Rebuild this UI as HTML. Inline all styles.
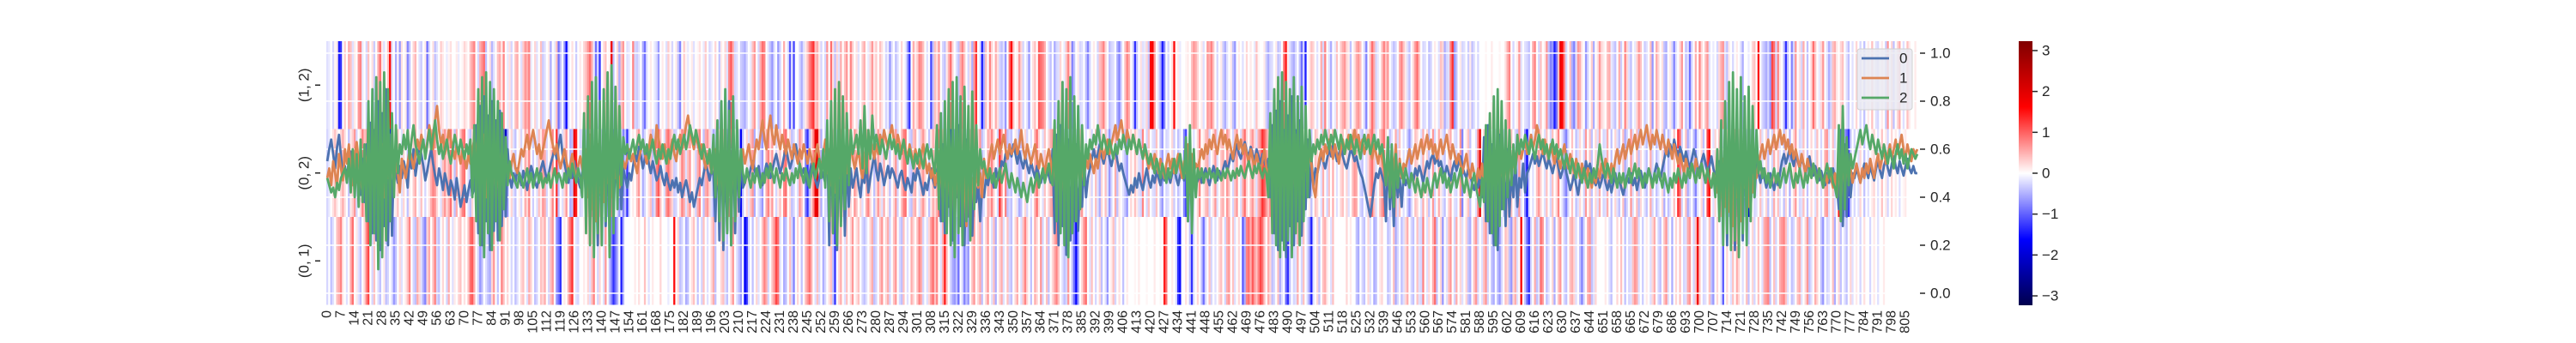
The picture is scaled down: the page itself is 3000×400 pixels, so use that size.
<!DOCTYPE html>
<html><head><meta charset="utf-8"><style>
html,body{margin:0;padding:0;background:#fff;width:3000px;height:400px;overflow:hidden}
svg text{font-family:"Liberation Sans","DejaVu Sans",sans-serif;fill:#262626}
</style></head><body>
<svg id="chart" width="3000" height="400" viewBox="0 0 3000 400" xmlns="http://www.w3.org/2000/svg">
<defs><linearGradient id="cbGrad" x1="0" y1="0" x2="0" y2="1">
<stop offset="0" stop-color="#800000"/><stop offset="0.25" stop-color="#ff0000"/><stop offset="0.5" stop-color="#ffffff"/><stop offset="0.75" stop-color="#0000ff"/><stop offset="1" stop-color="#00004d"/></linearGradient></defs>
<g id="heat"></g>
<g id="grid"></g>
<g id="lines"></g>
<g id="axes"></g>
<g id="legend"></g>
<g id="cbar"></g>
</svg>
<script>
const rowLabels=["(1, 2)","(0, 2)","(0, 1)"];
const rightTicks=[0,0.2,0.4,0.6,0.8,1.0];
const cbTicks=[3,2,1,0,-1,-2,-3];
const seriesNames=["0","1","2"];
// line values in hundredths (0-100)
const series0=[55,60,64,58,52,61,66,57,49,53,48,55,59,50,44,52,47,41,56,38,
62,30,71,25,68,22,80,18,75,28,85,20,66,24,58,
50,46,53,48,55,51,44,57,52,60,49,55,62,58,53,47,51,56,60,54,49,45,52,48,43,50,46,41,47,44,39,48,42,36,40,45,38,43,47,41,44,
70,25,78,20,82,30,74,18,80,26,72,22,76,28,68,32,60,
48,44,50,46,52,49,45,51,47,43,49,53,50,46,44,48,52,55,51,47,50,54,57,60,56,62,66,58,54,50,46,52,48,55,51,47,44,50,53,
40,62,30,68,25,58,20,72,35,64,28,55,38,66,30,60,42,56,35,52,48,
44,50,47,53,58,55,61,57,52,56,60,54,50,55,51,47,49,53,48,45,50,46,43,47,44,48,42,46,40,44,47,43,38,42,36,40,44,48,45,50,54,51,47,52,49,
30,70,22,76,18,64,26,80,20,72,25,66,34,58,44,
46,50,48,52,55,51,49,53,47,45,50,54,52,48,51,55,58,54,50,53,57,61,56,52,55,59,62,57,53,49,52,48,45,50,54,51,47,44,48,52,49,46,
68,20,74,25,70,18,62,30,66,24,58,36,52,44,
48,52,45,40,50,46,55,42,48,53,58,51,47,54,50,45,49,53,48,52,50,47,44,49,51,46,43,48,45,42,50,47,52,49,45,41,46,43,48,52,47,44,50,
55,30,62,25,58,36,48,22,60,40,70,28,52,20,64,32,56,24,50,38,46,30,44,40,48,
45,50,48,44,52,47,50,55,53,58,56,60,57,62,58,54,59,55,52,57,53,50,55,51,48,53,49,46,50,47,52,49,46,
60,25,66,20,70,28,58,16,64,22,54,30,62,26,50,36,56,40,48,
52,56,60,55,58,62,57,54,58,61,56,53,57,60,55,51,54,50,47,44,41,45,42,48,44,50,46,43,48,52,47,44,49,46,51,48,45,50,47,52,49,46,50,53,48,45,49,52,47,
60,30,55,35,50,45,
47,50,46,49,52,48,45,49,53,50,47,51,48,52,55,51,54,58,55,59,62,58,56,60,63,59,57,61,58,55,60,57,54,58,55,52,56,
40,70,25,76,18,80,22,68,15,74,28,82,20,66,30,72,24,60,35,64,40,56,45,52,
50,54,58,55,52,56,60,57,62,59,55,58,61,57,54,52,56,60,58,55,57,53,50,48,44,40,36,32,38,45,50,48,52,49,46,
30,60,35,52,28,55,40,48,36,50,45,
48,44,50,47,52,49,53,50,46,51,55,52,56,58,54,57,53,55,51,49,53,50,47,52,55,51,54,57,53,50,48,52,49,46,43,47,44,50,
40,65,30,70,25,62,20,58,18,66,35,55,28,60,32,52,40,56,36,48,44,54,42,50,
52,55,58,54,57,53,56,59,55,52,56,53,50,54,57,52,48,51,55,50,47,43,46,50,45,41,47,52,48,55,51,54,50,47,45,48,44,47,51,46,
43,47,42,46,50,45,48,44,41,45,49,46,50,45,48,43,47,51,47,44,48,52,49,45,50,54,51,47,52,56,60,57,62,58,64,60,56,61,58,55,
59,55,52,56,60,57,53,51,55,58,54,50,53,57,52,48,52,55,50,
30,70,20,76,25,80,18,72,28,66,22,74,26,68,34,60,40,55,
50,46,52,48,44,47,50,46,43,48,45,50,55,58,54,57,61,56,53,58,55,52,56,54,50,53,57,52,49,53,50,47,51,48,45,50,46,49,52,48,45,
35,68,28,62,32,58,40,50,
48,52,49,46,50,54,51,48,53,50,47,52,55,51,48,53,56,52,49,54,57,53,50,55,52,49,53,56,52,50,53,50,50];
const series1=[48,52,45,55,50,44,58,52,47,60,54,62,50,45,57,63,55,48,42,58,50,65,38,60,45,70,35,55,62,40,58,48,52,60,45,55,50,42,56,52,
48,54,60,56,52,58,64,60,66,62,58,63,70,65,60,72,78,68,62,66,58,62,68,64,60,56,62,58,54,60,56,52,58,54,60,64,58,50,62,48,
66,40,58,52,45,60,38,55,48,62,50,56,52,48,54,58,52,50,55,60,57,62,66,60,64,68,63,58,62,56,60,64,68,72,66,62,58,62,56,52,
56,60,55,50,54,58,52,48,53,57,52,48,60,40,66,35,58,30,62,42,56,38,64,46,52,40,58,48,54,44,50,55,52,56,60,55,58,54,50,56,
60,64,58,54,60,66,62,58,70,64,60,56,62,58,54,60,64,58,55,62,66,60,64,70,74,68,64,60,66,62,58,62,56,52,58,54,50,56,60,48,
42,58,36,60,45,62,38,56,48,60,52,56,60,54,58,62,56,52,58,64,60,66,72,64,60,68,74,66,62,70,64,60,66,62,58,64,60,56,62,58,
54,60,56,62,58,54,60,56,52,58,62,56,52,58,64,50,60,45,58,42,55,48,60,52,56,50,58,62,56,52,56,60,52,48,55,62,58,65,60,56,
62,58,66,62,68,64,60,66,70,64,60,66,62,58,64,60,56,62,58,54,60,56,52,58,62,56,50,54,48,52,45,50,42,55,38,60,35,58,44,52,
30,56,40,62,34,50,28,58,42,48,36,54,44,50,40,56,48,52,58,62,56,60,64,58,62,66,60,56,62,58,60,64,58,62,68,60,56,62,58,54,
58,62,56,52,58,54,50,56,60,55,45,60,40,64,38,56,48,62,42,58,50,54,46,60,44,52,48,56,52,58,54,50,56,52,58,62,56,60,64,58,
62,66,70,64,68,72,66,62,68,64,60,66,62,58,64,60,56,60,56,52,56,52,58,54,50,56,52,48,54,58,52,56,50,54,58,52,48,55,50,62,
42,58,50,54,52,56,60,56,62,58,64,60,66,62,58,64,68,62,66,60,64,60,56,62,66,60,64,58,62,58,54,60,56,52,58,54,50,55,60,52,
48,56,44,60,40,62,36,58,46,52,42,56,38,60,44,54,48,52,46,56,50,58,54,44,40,50,56,60,55,62,58,64,60,56,62,58,54,60,64,58,
62,66,60,64,68,62,66,60,64,58,62,66,60,56,62,58,54,60,56,52,45,60,40,58,50,62,44,56,48,54,52,56,60,54,58,62,56,60,64,58,
62,66,60,64,58,62,56,60,64,58,62,66,60,56,62,58,54,58,54,50,54,58,52,48,54,50,46,52,48,54,44,58,40,60,46,54,42,56,48,52,
46,58,44,56,50,54,52,58,62,56,60,64,58,62,66,60,64,70,66,62,58,64,60,56,62,58,54,60,56,52,58,62,56,52,58,54,50,56,52,48,
54,50,46,52,48,44,50,46,52,48,54,50,56,52,48,54,50,56,60,54,58,62,56,60,64,58,62,66,60,64,68,62,66,70,64,60,66,62,68,64,
60,66,62,58,64,60,56,62,58,54,58,54,50,56,52,48,54,50,56,52,48,54,50,46,52,48,44,50,46,42,48,40,56,36,60,34,52,28,58,40,
54,30,62,44,50,36,56,42,52,48,54,58,62,56,60,64,58,62,66,60,64,68,62,66,60,64,58,62,56,60,56,52,58,54,50,56,52,48,54,50,
46,52,48,44,50,46,52,48,44,50,40,58,36,62,42,56,48,52,46,50,54,50,46,52,48,54,50,56,52,48,54,58,52,56,60,54,58,62,56,60,
64,58,62,66,60,56,62,58,55,60,58,60];
const series2=[48,45,42,44,40,46,43,48,50,52,46,56,42,60,40,58,36,64,38,62,30,80,20,85,25,90,10,88,15,92,22,85,30,75,40,70,50,62,58,66,
60,68,56,64,70,62,58,54,60,64,56,62,68,60,66,72,64,58,62,56,60,64,58,54,60,66,62,58,64,60,56,62,58,64,40,70,30,85,20,90,
15,92,25,88,18,85,30,80,22,75,35,65,45,55,50,48,46,44,50,47,44,48,52,46,50,44,48,52,46,50,44,48,46,50,44,48,52,46,50,48,
44,50,46,52,48,54,50,46,52,48,40,75,25,82,20,88,15,90,25,80,20,85,30,92,15,95,25,86,35,78,45,65,58,62,56,60,64,58,62,66,
60,64,58,62,56,60,64,58,54,60,56,62,58,54,60,56,62,66,60,64,58,62,66,60,64,70,66,62,68,64,60,56,62,58,54,60,50,66,40,72,
30,80,22,85,25,76,20,82,30,72,40,60,50,46,52,48,44,50,46,52,48,44,50,46,52,48,54,50,46,52,48,44,50,47,52,48,45,50,46,52,
48,54,50,46,52,48,44,50,54,48,52,56,48,60,44,72,30,80,25,85,20,88,28,82,35,75,45,68,58,62,66,58,72,52,78,50,68,56,74,60,
66,62,58,64,60,56,62,66,60,64,58,62,56,60,64,58,54,60,56,52,58,54,60,56,52,58,62,56,60,54,50,70,35,75,30,80,25,85,20,88,
15,90,25,82,20,86,30,78,22,84,35,70,45,60,52,55,50,48,52,46,50,44,48,52,46,50,54,48,44,50,46,42,48,44,40,46,42,38,44,48,
42,46,50,44,48,52,46,50,54,48,45,72,30,80,25,88,20,85,15,90,25,82,30,78,35,70,45,62,56,64,60,66,62,70,64,60,66,62,58,64,
60,56,62,58,64,60,66,62,58,64,60,66,62,58,64,60,56,62,58,54,58,54,50,56,52,48,54,50,46,52,48,52,56,50,54,58,52,48,65,30,
70,25,60,40,52,48,52,46,50,48,52,48,50,46,52,49,47,51,48,52,50,47,51,48,52,49,53,50,48,52,55,51,48,53,50,54,51,48,52,50,
40,75,25,85,20,90,15,92,18,88,22,85,15,90,25,82,20,86,30,78,40,68,55,62,58,64,60,66,62,68,64,60,66,62,68,64,60,66,62,58,
64,60,66,62,58,64,60,56,62,66,60,64,58,62,66,60,64,58,62,56,45,65,40,62,36,58,44,54,50,46,52,48,44,50,46,42,48,44,40,46,
42,48,44,40,46,50,44,48,52,46,50,44,48,42,46,50,44,48,52,46,42,48,44,40,46,50,44,40,36,48,38,70,30,75,25,82,20,85,28,80,
35,72,40,68,45,62,50,66,58,64,60,66,62,58,64,60,56,62,66,60,64,58,62,56,60,64,58,62,56,60,56,52,58,54,50,56,52,48,54,50,
46,52,48,44,50,46,52,48,54,62,56,52,48,54,50,46,52,48,44,50,46,50,44,48,52,46,50,54,48,52,48,44,50,46,52,48,44,50,46,52,
48,44,50,46,42,48,44,50,46,52,48,44,50,46,52,48,54,50,46,52,48,54,50,46,52,48,44,50,40,60,30,72,20,80,25,88,18,92,22,85,
15,90,25,82,20,86,30,78,40,68,50,55,48,52,46,50,44,48,52,46,50,44,48,52,46,50,54,48,44,50,46,52,48,44,50,46,52,48,54,50,
46,52,48,44,50,54,48,52,46,44,40,70,30,78,35,65,45,58,52,56,60,64,68,62,66,70,64,60,66,62,58,64,60,56,62,58,54,60,56,52,
58,62,56,60,54,58,52,56,60,58,56,58];
// heatmap values in units of HEAT_UNIT
const HEAT_UNIT=0.065;
const heatRow12=[-3,-2,0,-4,1,2,-22,-20,0,5,0,8,6,-3,2,0,10,12,-2,0,-4,6,0,3,-5,0,8,14,2,-3,0,6,24,-3,0,-8,1,-10,3,0,
2,-12,-6,0,4,7,0,-3,-5,0,2,-14,-4,0,3,-6,-3,0,5,2,0,-2,1,3,0,0,2,-2,0,1,4,2,0,6,9,12,0,-4,8,11,
14,-6,0,3,-7,-3,0,6,8,2,12,0,-2,3,-4,0,6,8,0,-3,5,10,8,12,-2,0,4,-3,0,6,-5,-3,0,2,-8,0,-2,6,-14,-6,
0,-10,-24,-4,0,3,0,-5,0,2,0,4,6,10,14,8,-2,-14,-4,-20,0,3,6,0,2,28,-6,0,4,-8,6,10,0,-3,-2,0,12,-4,-5,-3,
0,-8,-14,-3,0,2,0,-2,-4,-10,0,2,0,-3,5,1,-4,0,2,-6,-12,0,5,1,-2,0,2,-3,0,1,3,0,-2,5,0,-4,-2,0,4,0,
-6,2,0,4,-3,12,16,8,-4,-3,0,-5,-6,-8,-4,0,-2,6,10,0,-4,8,14,12,0,-3,-6,-10,-3,0,-10,-4,0,8,0,-3,-16,-2,-18,0,
0,-4,-8,-3,2,6,12,16,20,6,8,2,-4,0,-4,10,0,14,3,-6,4,-3,8,0,6,10,0,12,5,0,3,-3,0,5,8,0,-2,4,10,2,
5,0,6,3,0,-4,-2,-10,-3,0,-6,-3,0,4,0,-2,-10,-20,0,8,2,5,12,10,6,0,-3,0,-18,-6,6,3,10,0,-4,-6,2,8,14,4,
0,-3,-6,8,12,6,0,-4,3,-8,10,20,0,-3,-22,-8,6,0,12,4,0,8,3,-4,-6,-3,-10,0,14,24,6,0,2,10,4,-4,0,-3,-10,0,
3,6,0,16,14,12,8,0,-3,-6,0,-8,-4,-3,4,0,-2,6,12,3,-12,-6,0,2,-4,-3,0,-6,-12,-4,0,2,0,-4,6,8,12,4,0,-6,
-4,-3,0,-8,-12,-4,0,6,12,8,0,-4,-20,-6,0,3,-3,-2,4,-6,24,26,10,0,-3,-8,-22,-12,0,-4,0,3,24,0,2,-2,0,0,1,2,
0,6,10,8,4,0,2,-3,0,10,8,12,6,0,-4,0,2,-5,-8,-3,0,2,-6,-10,0,2,0,-3,0,4,0,2,0,-2,6,1,0,0,2,-5,
-8,-4,-3,0,2,-6,-4,0,14,22,2,-3,-6,-8,-4,0,-6,-14,-4,-22,0,2,6,4,0,-3,0,8,-4,12,0,-3,-8,0,-2,6,0,5,8,10,
4,2,-6,0,3,8,10,6,0,-4,-12,0,6,14,8,-4,-2,0,6,12,6,10,0,-3,-6,-4,0,8,12,6,2,-3,-6,0,4,10,14,6,0,-4,
-3,0,-6,-4,0,2,0,-3,6,4,-8,-4,-3,12,20,-10,-6,0,2,-4,-3,0,-5,2,-6,-3,0,-4,0,0,0,1,0,0,2,0,0,0,1,0,
0,3,8,12,0,-4,0,2,10,-3,0,-3,-4,-6,0,8,12,0,-4,6,0,2,10,-6,-12,-10,-22,-14,6,28,24,12,-4,0,6,-8,-12,-3,10,8,
2,0,-10,-4,0,5,-8,0,3,10,4,2,0,6,8,-2,-4,-6,0,8,-5,0,12,4,-3,-6,0,-2,4,10,6,0,-5,-3,0,6,-10,0,8,4,
0,3,-6,-8,0,2,-4,-12,-3,0,4,10,0,-6,-3,-14,-4,0,8,0,12,4,0,6,10,-3,0,-2,0,-4,4,8,10,-3,-6,2,0,-4,0,2,
0,-3,-8,0,0,-2,0,4,6,0,24,0,-4,-6,-8,-4,-10,18,14,-4,12,2,0,-6,-20,-6,0,-12,-4,10,0,3,-4,8,0,-6,0,4,14,6,
0,-2,4,10,0,-3,-8,-4,6,8,2,0,4,6,0,-3,-6,0,-3,0,4,0,-4,0,-6,0,2,0,6,0,-3,-4,0,2,0,-5,10,0,4,-6,
0,4,8,0,-3,0,6,2,0,0,2,0];
const heatRow02=[-4,-2,0,3,6,2,0,4,8,3,0,-6,2,5,10,-4,0,4,12,6,8,-3,0,4,0,6,-4,-8,-6,0,8,3,-26,-4,0,2,6,0,-3,4,
0,-6,2,0,5,8,0,-2,6,0,-4,0,3,8,12,10,4,0,-3,6,10,4,8,14,2,-6,8,0,6,12,14,0,-3,-6,4,0,12,10,4,8,
0,-4,6,12,8,-3,0,2,6,4,-6,-32,-10,0,4,-3,-6,0,2,-4,0,8,4,12,0,-5,0,-3,6,2,10,8,-4,0,4,12,0,20,-6,0,
-3,4,10,0,-8,-6,28,22,0,-4,-3,0,-6,6,10,12,-4,4,0,8,-4,0,-6,-8,2,12,-14,0,-4,-10,-3,-12,-6,-20,-4,0,2,0,6,10,
0,-8,-4,0,3,6,-6,-3,12,16,6,0,-3,10,14,8,4,-5,-4,0,4,12,8,-3,6,10,0,2,-4,8,12,0,-6,8,10,4,-3,-8,-5,0,
4,-3,6,0,-8,12,14,-4,0,6,-4,-26,-6,0,4,-3,6,10,-8,0,-3,-6,-10,0,8,12,4,10,0,-4,2,6,0,12,14,0,4,-6,-4,0,
-3,10,6,0,-12,-20,-6,4,12,28,30,6,-8,0,-4,-3,0,10,6,-20,-4,6,12,4,0,-3,8,4,0,10,6,0,4,-3,0,8,12,4,0,-6,
3,10,4,-3,8,0,2,-6,0,4,10,-4,0,6,12,14,0,-4,-6,6,8,0,-3,6,10,4,0,-6,2,8,4,8,14,20,6,0,-4,-8,-24,-22,
-10,-4,0,6,10,4,-3,0,8,-6,12,0,4,10,-6,-3,0,8,6,12,4,0,-4,20,10,0,12,-6,-4,-6,0,2,-3,-8,-6,0,4,-4,0,-3,
0,8,14,4,0,-3,6,0,4,8,10,-3,0,6,-4,0,-6,12,-4,0,-10,-8,-4,0,6,10,0,-3,0,2,-4,0,6,-3,-8,4,0,6,-3,-10,
-4,0,8,-6,2,0,-3,-6,-10,0,4,0,6,2,-3,-4,12,0,-4,6,0,-3,-4,6,0,-6,-10,0,-4,-3,0,4,-5,0,-6,-3,0,-12,-18,0,
-6,0,-3,0,4,12,0,2,6,8,-4,0,4,10,-3,0,6,8,0,10,6,0,-4,6,10,0,-3,8,14,4,0,6,10,4,-3,8,12,20,16,10,
6,12,8,-3,0,-4,-6,0,-8,-4,0,-3,-4,-6,-20,-26,-10,-4,0,-3,0,2,-6,0,6,4,0,-3,8,0,-4,6,0,8,0,-3,0,4,6,0,
4,-3,0,6,10,8,0,-4,-6,0,-3,4,10,14,6,-3,0,6,10,14,4,0,-6,-3,0,8,-4,6,0,-3,0,-5,-10,-4,0,6,4,0,-3,8,
0,4,-6,0,10,-4,0,8,2,-3,-6,0,4,8,0,-3,-4,0,10,-12,0,2,6,-6,0,0,-3,12,30,0,4,0,-6,-8,0,-4,-3,2,6,0,
-4,0,4,-3,6,0,-4,-6,10,-3,0,-12,-24,-4,0,-3,0,6,10,4,0,-3,6,0,-4,6,0,4,12,0,-3,-8,-12,-4,0,6,0,-6,-3,4,
0,-4,10,0,6,-6,0,4,-3,8,0,-4,-3,8,0,-6,0,4,-3,-6,0,6,-8,-4,0,10,-3,0,6,-6,4,0,-3,-6,0,8,-4,0,-6,-3,
0,4,-8,0,-6,-3,0,6,0,20,14,-4,0,6,-8,-4,0,-6,-12,-3,0,4,-6,0,18,24,0,-3,4,0,6,10,-3,0,4,-6,0,-3,8,12,
4,0,-6,-10,-4,-30,-6,0,-4,-3,0,6,-3,0,4,-6,0,-4,8,0,6,-3,0,-6,4,0,-8,0,4,10,0,-4,-3,6,0,-6,0,4,0,-3,
6,0,-4,0,8,10,-3,0,6,-4,0,22,12,-6,-10,-14,-20,-6,0,-4,0,-3,4,0,-6,0,-3,0,2,4,0,-3,0,6,0,2,-4,0,4,0,
2,0,-3,0,1,2,0,0,0,0,0,0];
const heatRow01=[-4,0,-6,-3,0,6,8,12,2,0,-3,0,8,14,0,2,-3,-6,0,4,12,18,0,-4,6,0,-3,-6,0,2,-6,-4,0,-3,-10,-6,0,4,-3,0,
2,6,12,0,-4,-6,8,4,-3,-8,-12,4,8,0,6,12,-4,-6,0,4,0,-4,8,0,-3,2,0,4,6,0,3,0,6,14,16,8,0,-4,-10,-6,
0,-3,-6,-8,4,10,0,-6,0,12,6,0,4,0,-4,0,-6,-3,0,4,6,0,-3,8,4,0,-6,-4,0,6,4,8,0,-4,6,10,0,-10,-14,-20,
0,2,0,8,14,20,0,-3,-4,0,0,2,0,4,-3,6,12,0,-4,4,0,-3,10,0,-6,-12,-20,-14,-8,0,-22,-8,0,0,0,0,0,2,0,3,
0,0,6,0,-3,0,2,0,0,0,4,0,0,0,-2,0,0,24,0,4,-6,-4,0,-8,-6,0,3,6,0,-6,0,-4,6,0,-3,0,4,8,-6,0,
0,4,6,-3,-6,0,4,10,0,-3,-6,-10,0,-26,-20,-4,0,-6,0,4,-3,0,6,12,8,-4,0,6,10,18,14,-3,0,-8,-6,0,6,-4,-12,0,
4,0,-6,0,6,10,14,8,0,-3,6,-4,0,-8,-4,0,3,6,-6,-20,0,4,8,0,-3,6,0,4,10,0,3,6,0,-4,-6,-3,0,4,8,-6,
-4,0,6,10,0,4,8,-4,0,6,10,0,-4,-6,6,0,-3,0,8,4,0,6,12,8,-4,0,-3,4,10,14,6,12,0,-3,8,22,6,0,-4,-8,
-10,-6,-14,0,-4,-12,-6,-10,0,6,10,0,4,8,-6,0,4,10,0,-3,6,-8,0,4,8,-3,0,6,-4,-6,0,4,8,0,-3,6,12,4,0,-6,
0,8,4,0,10,-4,0,6,-6,0,4,8,12,6,0,-3,-6,-4,10,0,-6,-14,-24,-10,0,4,10,14,0,-3,6,0,-4,0,4,-6,0,-3,-10,0,
2,6,-4,0,3,0,-6,0,2,0,0,0,1,0,2,0,0,0,1,0,0,0,2,0,0,1,0,22,14,0,0,2,0,-3,-20,-24,0,0,3,0,
-6,-20,-3,0,4,0,-6,-14,-4,0,6,-4,0,-3,0,4,6,0,-4,8,10,0,6,-3,0,4,0,-16,-8,12,14,8,16,10,6,12,18,14,6,0,
8,4,-6,-4,0,6,-8,-3,0,-14,-20,-6,0,-4,-3,8,0,-4,6,0,-4,-10,-22,-3,0,4,-6,0,6,8,2,0,-3,6,0,0,0,0,0,0,
4,0,2,0,0,-6,-8,0,-4,-6,0,4,-3,0,-8,-6,0,2,4,0,0,-6,-4,0,6,-8,-4,0,-6,-3,4,8,0,-4,-6,0,6,-3,-4,12,
0,-3,4,0,8,14,-6,0,4,-10,0,-3,6,10,0,-4,8,0,4,-3,0,4,-6,-8,0,6,10,-4,0,-3,6,10,-4,0,-6,-8,0,-6,-10,-4,
0,6,4,-6,-10,4,8,-3,0,26,0,-6,-14,-20,-4,0,8,-6,-3,14,10,0,-6,-3,0,4,-8,0,6,10,0,-4,-6,0,6,8,4,-3,0,-6,
-12,-4,0,8,10,-6,-3,4,0,0,0,0,2,0,-3,-6,0,0,4,0,6,0,-6,0,-4,-3,6,10,8,-3,0,-5,0,2,0,-3,4,8,0,-4,
-6,0,6,10,-3,0,-8,0,4,0,6,0,-4,-3,8,10,0,-4,6,28,6,0,-4,-3,0,6,-6,-10,0,4,0,-3,-16,0,4,0,-3,6,0,8,
4,0,-3,0,6,-6,0,4,-4,0,6,0,-3,8,10,12,-6,0,6,-4,0,8,10,12,6,-3,0,-6,-4,0,6,8,-3,0,4,10,-6,-3,0,8,
4,0,-6,-10,0,-4,-3,0,6,-8,0,4,-6,0,-3,-6,0,4,-3,0,2,0,-4,0,3,0,0,-4,0,2,0,-3,0,0,2,0,0,0,0,0,
0,0,0,0,0,0,0,0,0,0,0,0];

const NS="http://www.w3.org/2000/svg";
const N=812, X0=380, X1=2234, Y0=48, Y1=355.5, VMAX=3.23;
const cw=(X1-X0)/N, rh=(Y1-Y0)/3;
function xCol(i){return X0+i*cw;}
function yVal(v){return 342-v*280;}
function yCb(v){return 202-v*(154/VMAX);}
function mk(tag,attrs,parent){const e=document.createElementNS(NS,tag);for(const k in attrs)e.setAttribute(k,attrs[k]);parent.appendChild(e);return e;}
function lerp(a,b,t){return a+(b-a)*t;}
function seismic(v){
  let t=(v+VMAX)/(2*VMAX);t=Math.max(0,Math.min(1,t));
  const st=[[0,0,0,77],[0.25,0,0,255],[0.5,255,255,255],[0.75,255,0,0],[1,128,0,0]];
  for(let k=0;k<4;k++){if(t<=st[k+1][0]){const f=(t-st[k][0])/(st[k+1][0]-st[k][0]);
    return `rgb(${Math.round(lerp(st[k][1],st[k+1][1],f))},${Math.round(lerp(st[k][2],st[k+1][2],f))},${Math.round(lerp(st[k][3],st[k+1][3],f))})`;}}
  return "rgb(128,0,0)";
}
const heat=document.getElementById('heat');
mk('rect',{x:X0,y:Y0,width:X1-X0,height:Y1-Y0,fill:'#fff8f8'},heat);
[heatRow12,heatRow02,heatRow01].forEach((row,r)=>{
  row.forEach((val,i)=>{
    const c=mk('rect',{x:xCol(i).toFixed(2),y:(Y0+r*rh).toFixed(2),width:(cw+0.4).toFixed(2),height:rh.toFixed(2),fill:seismic(val*HEAT_UNIT)},heat);
    
    
  });
});
const grid=document.getElementById('grid');
rightTicks.forEach(v=>{
  const g=mk('line',{x1:X0,x2:X1,y1:yVal(v),y2:yVal(v),stroke:'#ffffff','stroke-width':1.6},grid);
  
  
});
const colors=["#4c72b0","#dd8452","#55a868"];
const lines=document.getElementById('lines');
[series0,series1,series2].forEach((s,k)=>{
  const pts=s.map((v,i)=>(xCol(i)+cw/2).toFixed(1)+","+yVal(v/100).toFixed(1)).join(" ");
  const p=mk('polyline',{points:pts,fill:'none',stroke:colors[k],'stroke-width':2.8,'stroke-linejoin':'round'},lines);
  
  
});
const axes=document.getElementById('axes');
for(let i=0;i<N;i+=7){
  const x=xCol(i)+cw/2;
  const t=mk('text',{x:0,y:0,transform:`translate(${x.toFixed(1)},362) rotate(-90)`,'text-anchor':'end','dominant-baseline':'central','font-size':16},axes);
  t.textContent=String(i);
  
  
}
rowLabels.forEach((lab,r)=>{
  const cy=Y0+(r+0.5)*rh;
  const tk=mk('line',{x1:367,x2:373,y1:cy,y2:cy,stroke:'#262626','stroke-width':1.5},axes);
  
  
  const t=mk('text',{x:0,y:0,transform:`translate(354,${cy.toFixed(1)}) rotate(-90)`,'text-anchor':'middle','dominant-baseline':'central','font-size':17},axes);
  t.textContent=lab;
  
  
});
rightTicks.forEach(v=>{
  const y=yVal(v);
  const tk=mk('line',{x1:2236,x2:2242,y1:y,y2:y,stroke:'#262626','stroke-width':1.5},axes);
  
  
  const t=mk('text',{x:2248,y:y,'dominant-baseline':'central','font-size':17},axes);
  t.textContent=v.toFixed(1);
  
  
});
const leg=document.getElementById('legend');
const box=mk('rect',{x:2163,y:57,width:64,height:71,rx:3,fill:'#eaeaf2','fill-opacity':0.85,stroke:'#d0d0d0','stroke-width':1},leg);


seriesNames.forEach((nm,k)=>{
  const y=68+k*23;
  const l=mk('line',{x1:2168,x2:2200,y1:y,y2:y,stroke:colors[k],'stroke-width':2.8},leg);
  
  
  const t=mk('text',{x:2212,y:y,'dominant-baseline':'central','font-size':17},leg);
  t.textContent=nm;
  
  
});
const cb=document.getElementById('cbar');
const cbr=mk('rect',{x:2351,y:48,width:16,height:308,fill:'url(#cbGrad)'},cb);


cbTicks.forEach(v=>{
  const y=yCb(v);
  const tk=mk('line',{x1:2367,x2:2373,y1:y,y2:y,stroke:'#262626','stroke-width':1.5},cb);
  
  
  const t=mk('text',{x:2378,y:y,'dominant-baseline':'central','font-size':17},cb);
  t.textContent=v<0?'\u2212'+Math.abs(v):String(v);
  
  
});
</script>
</body></html>
